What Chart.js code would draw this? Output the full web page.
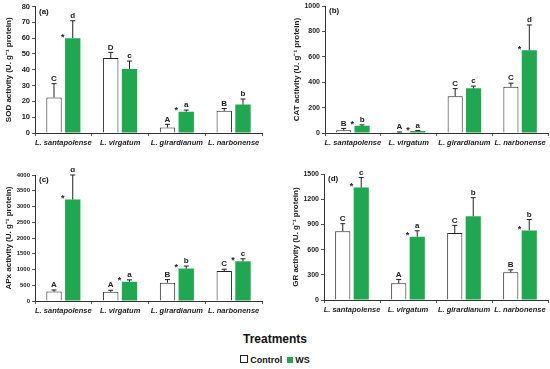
<!DOCTYPE html>
<html>
<head>
<meta charset="utf-8">
<script src="https://cdn.jsdelivr.net/npm/chart.js@4.4.1/dist/chart.umd.min.js"></script>
<style>
  body { margin: 0; background: #fff; font-family: "Liberation Sans", Arial, sans-serif; }
  #wrap { position: relative; width: 550px; height: 369px; overflow: hidden; }
  .pan { position: absolute; }
  #ttl { position: absolute; left: 0; width: 550px; top: 332px; text-align: center; font-weight: bold; font-size: 12px; color: #111; }
  #leg { position: absolute; left: 0; width: 550px; top: 355px; text-align: center; font-weight: bold; font-size: 9px; color: #111; }
  .sw { display: inline-block; width: 6px; height: 6px; margin-right: 2px; }
</style>
</head>
<body>
<div id="wrap">
  <div class="pan" style="left:0;top:0;width:275px;height:155px"><canvas id="sod"></canvas></div>
  <div class="pan" style="left:275px;top:0;width:275px;height:155px"><canvas id="cat"></canvas></div>
  <div class="pan" style="left:0;top:168px;width:275px;height:155px"><canvas id="apx"></canvas></div>
  <div class="pan" style="left:275px;top:168px;width:275px;height:154px"><canvas id="gr"></canvas></div>
  <div id="ttl">Treatments</div>
  <div id="leg"><span class="sw" style="border:1px solid #222;background:#fff"></span>Control&nbsp; <span class="sw" style="background:#1fa84f"></span>WS</div>
</div>
<script>
const species = ['L. santapolense', 'L. virgatum', 'L. girardianum', 'L. narbonense'];

// SOD
const sodCtrl = [22.5, 47.5, 3.5, 14];
const sodWs = [60, 40.5, 13.5, 18];
const sodCtrlErr = [8.7, 3.5, 2, 1.5];
const sodWsErr = [11, 5, 1, 3.5];
const sodCtrlLet = ['C', 'D', 'A', 'B'];
const sodWsLet = ['d', 'c', 'a', 'b'];
const sodStar = [true, false, true, false];

// CAT
const catCtrl = [22, 5, 290, 365];
const catWs = [58, 15, 352, 652];
const catCtrlErr = [14, 3, 60, 28];
const catWsErr = [6, 5, 18, 200];
const catCtrlLet = ['B', 'A', 'C', 'C'];
const catWsLet = ['b', 'a', 'c', 'd'];
const catStar = [true, true, false, true];

// APx
const apxCtrl = [300, 290, 580, 950];
const apxWs = [3220, 610, 1030, 1260];
const apxCtrlErr = [50, 50, 100, 60];
const apxWsErr = [780, 60, 80, 80];
const apxCtrlLet = ['A', 'A', 'B', 'C'];
const apxWsLet = ['d', 'a', 'b', 'c'];
const apxStar = [true, true, true, true];

// GR
const grCtrl = [820, 200, 800, 330];
const grWs = [1340, 755, 1000, 830];
const grCtrlErr = [90, 45, 90, 30];
const grWsErr = [120, 70, 220, 130];
const grCtrlLet = ['C', 'A', 'C', 'B'];
const grWsLet = ['c', 'a', 'b', 'b'];
const grStar = [true, true, false, true];

const green = '#1fa84f';

// error bars, letters, asterisks and panel tag
const marks = {
    id: 'marks',
    afterDatasetsDraw(chart) {
        const ctx = chart.ctx;
        const y = chart.scales.y;
        const o = chart.options.plugins.marks;
        ctx.save();
        chart.data.datasets.forEach((ds, di) => {
            const meta = chart.getDatasetMeta(di);
            meta.data.forEach((bar, i) => {
                const top = y.getPixelForValue(ds.data[i] + ds.err[i]);
                ctx.strokeStyle = '#222';
                ctx.lineWidth = 1;
                ctx.beginPath();
                ctx.moveTo(bar.x, bar.y);
                ctx.lineTo(bar.x, top);
                ctx.moveTo(bar.x - 2.5, top);
                ctx.lineTo(bar.x + 2.5, top);
                ctx.stroke();
                ctx.fillStyle = '#222';
                ctx.font = 'bold 8px "Liberation Sans"';
                ctx.textAlign = 'center';
                ctx.textBaseline = 'bottom';
                ctx.fillText(ds.letters[i], bar.x, top - 1);
                if (di === 1 && o.stars[i]) {
                    ctx.font = 'bold 9px "Liberation Sans"';
                    ctx.textAlign = 'right';
                    ctx.textBaseline = 'middle';
                    ctx.fillText('*', bar.x - bar.width / 2 - 0.5, bar.y - 1);
                }
            });
        });
        ctx.font = 'bold 8px "Liberation Sans"';
        ctx.textAlign = 'left';
        ctx.textBaseline = 'top';
        ctx.fillStyle = '#111';
        ctx.fillText(o.tag, chart.chartArea.left + 4, chart.chartArea.top + 1);
        ctx.restore();
    }
};

function makeChart(id, tag, title, ctrl, ws, ctrlErr, wsErr, ctrlLet, wsLet, stars, max, step, yWidth, tickSize, titlePad, pad) {
    return new Chart(document.getElementById(id), {
        type: 'bar',
        data: {
            labels: species,
            datasets: [
                {
                    label: 'Control',
                    data: ctrl,
                    err: ctrlErr,
                    letters: ctrlLet,
                    backgroundColor: '#ffffff',
                    borderColor: '#222222',
                    borderWidth: 1
                },
                {
                    label: 'WS',
                    data: ws,
                    err: wsErr,
                    letters: wsLet,
                    backgroundColor: green,
                    borderColor: green,
                    borderWidth: 0
                }
            ]
        },
        options: {
            responsive: true,
            maintainAspectRatio: false,
            animation: false,
            categoryPercentage: 0.66,
            barPercentage: 0.82,
            layout: { padding: pad },
            plugins: {
                legend: { display: false },
                tooltip: { enabled: false },
                marks: { tag: tag, stars: stars }
            },
            scales: {
                x: {
                    offset: true,
                    grid: { display: true, offset: true, drawOnChartArea: false, tickLength: 3, color: '#555' },
                    border: { color: '#333', width: 1 },
                    ticks: { color: '#222', padding: 2, font: { family: 'Liberation Sans', size: 7.5, style: 'italic', weight: 'bold' }, maxRotation: 0, autoSkip: false },
                    afterFit: s => { s.height = 22; }
                },
                y: {
                    min: 0,
                    max: max,
                    grid: { display: true, drawOnChartArea: false, tickLength: 3, color: '#555' },
                    border: { color: '#333', width: 1 },
                    ticks: { stepSize: step, color: '#222', padding: 2, font: { family: 'Liberation Sans', size: tickSize, weight: 'bold' }, callback: v => String(v) },
                    title: { display: true, text: title, color: '#222', padding: { top: titlePad, bottom: 0 }, font: { family: 'Liberation Sans', size: 8, weight: 'bold' } },
                    afterFit: s => { s.width = yWidth; }
                }
            }
        },
        plugins: [marks]
    });
}

makeChart('sod', '(a)', 'SOD activity (U. g\u207B\u00B9 protein)', sodCtrl, sodWs, sodCtrlErr, sodWsErr, sodCtrlLet, sodWsLet, sodStar,
    80, 10, 35, 7.5, 4, { top: 5, right: 13, left: 0, bottom: 0 });
makeChart('cat', '(b)', 'CAT activity (U. g\u207B\u00B9 protein)', catCtrl, catWs, catCtrlErr, catWsErr, catCtrlLet, catWsLet, catStar,
    1000, 200, 50, 7, 17, { top: 5, right: 2, left: 0, bottom: 0 });
makeChart('apx', '(c)', 'APx activity (U. g\u207B\u00B9 protein)', apxCtrl, apxWs, apxCtrlErr, apxWsErr, apxCtrlLet, apxWsLet, apxStar,
    4000, 500, 35, 6, 4, { top: 7, right: 13, left: 0, bottom: 0 });
makeChart('gr', '(d)', 'GR activity (U. g\u207B\u00B9 protein)', grCtrl, grWs, grCtrlErr, grWsErr, grCtrlLet, grWsLet, grStar,
    1500, 300, 49, 7, 16, { top: 4, right: 2, left: 0, bottom: 0 });
</script>
</body>
</html>
